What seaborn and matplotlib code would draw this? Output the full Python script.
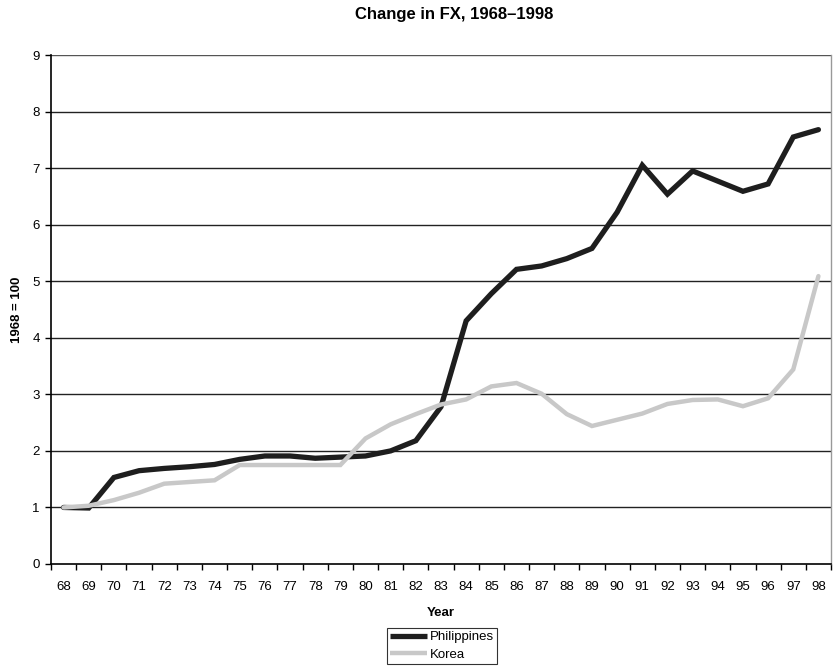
import numpy as np
import pandas as pd
import matplotlib
matplotlib.use("Agg")
import matplotlib.pyplot as plt
import seaborn as sns

years = ["68", "69", "70", "71", "72", "73", "74", "75", "76", "77", "78", "79",
         "80", "81", "82", "83", "84", "85", "86", "87", "88", "89", "90", "91",
         "92", "93", "94", "95", "96", "97", "98"]
philippines = [1.00, 0.99, 1.53, 1.65, 1.69, 1.72, 1.76, 1.85, 1.91, 1.91, 1.87, 1.89,
               1.91, 2.00, 2.18, 2.78, 4.30, 4.78, 5.21, 5.27, 5.40, 5.58, 6.22, 7.05,
               6.54, 6.95, 6.77, 6.59, 6.72, 7.55, 7.68]
korea = [1.00, 1.03, 1.13, 1.26, 1.42, 1.45, 1.48, 1.75, 1.75, 1.75, 1.75, 1.75,
         2.22, 2.47, 2.65, 2.82, 2.91, 3.14, 3.20, 3.01, 2.65, 2.44, 2.55, 2.66,
         2.83, 2.90, 2.91, 2.79, 2.93, 3.44, 5.09]
series_names = ["Philippines", "Korea"]
y_ticks = [0, 1, 2, 3, 4, 5, 6, 7, 8, 9]

sns.set_theme(style="white")
plt.rcParams["font.family"] = ["Liberation Sans", "DejaVu Sans"]
plt.rcParams.update({"text.color": "black", "axes.labelcolor": "black",
                     "xtick.color": "black", "ytick.color": "black"})

pos = np.arange(len(years))
df = pd.DataFrame({
    "pos": np.concatenate([pos, pos]),
    "value": philippines + korea,
    "series": [series_names[0]] * len(years) + [series_names[1]] * len(years),
})

fig = plt.figure(figsize=(8.33, 6.66), dpi=100)
ax = fig.add_axes([51 / 833, 1 - 564 / 666, 780 / 833, (564 - 55) / 666])

palette = {"Philippines": "#1e1e1e", "Korea": "#c8c8c8"}
sns.lineplot(data=df, x="pos", y="value", hue="series", palette=palette,
             hue_order=series_names, ax=ax, legend=False, sort=False)
for line, lw in zip(ax.lines, [3.8, 3.2]):
    line.set_linewidth(lw)
    line.set_solid_joinstyle("miter")

ax.set_xlim(-0.5, len(years) - 0.5)
ax.set_ylim(0, 9)
ax.set_yticks(y_ticks)
ax.set_yticklabels([str(t) for t in y_ticks], fontsize=9.5)
ax.set_xticks(pos)
ax.set_xticklabels(years, fontsize=9.5)
ax.set_xticks(np.arange(len(years) + 1) - 0.5, minor=True)
ax.tick_params(axis="x", which="major", length=0, pad=12, labelcolor="black")
ax.tick_params(axis="x", which="minor", length=4, width=1, color="black", direction="out", bottom=True)
ax.tick_params(axis="y", which="major", length=4, width=1, color="black", direction="out",
               left=True, pad=4, labelcolor="black")

for t in y_ticks[1:]:
    ax.axhline(t, color="#222222" if t < 9 else "#555555", lw=1.0, zorder=0)

for side in ["left", "bottom"]:
    ax.spines[side].set_color("black")
    ax.spines[side].set_linewidth(1.2)
ax.spines["top"].set_visible(False)
ax.spines["right"].set_color("#999999")
ax.spines["right"].set_linewidth(1.0)

ax.set_xlabel("Year", fontsize=9.5, fontweight="bold", labelpad=10, color="black")
ax.set_ylabel("1968 = 100", fontsize=9.5, fontweight="bold", labelpad=7, color="black")

fig.text(454 / 833, 1 - 15 / 666, "Change in FX, 1968\u20131998", ha="center", va="center",
         fontsize=12, fontweight="bold", color="black")

handles = [plt.Line2D([], [], color=palette[n], lw=lw, solid_capstyle="butt")
           for n, lw in zip(series_names, [3.8, 3.2])]
leg = fig.legend(handles, series_names, loc="center",
                 bbox_to_anchor=(442 / 833, 1 - 646 / 666), fontsize=9.5,
                 frameon=True, fancybox=False, handlelength=2.8, handletextpad=0.25,
                 borderpad=0.25, labelspacing=0.4, borderaxespad=0)
leg.get_frame().set_edgecolor("black")
leg.get_frame().set_linewidth(0.8)
for txt in leg.get_texts():
    txt.set_color("black")

fig.savefig("out.png", dpi=100)
